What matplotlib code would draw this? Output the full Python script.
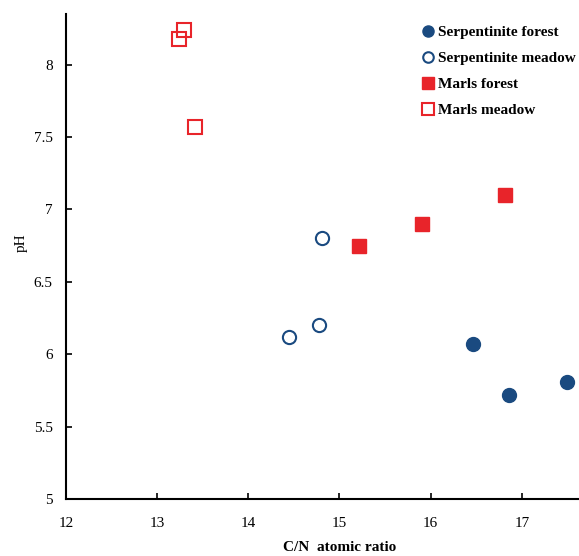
import matplotlib
matplotlib.use("Agg")
import matplotlib.pyplot as plt

plt.rcParams["font.family"] = ["Liberation Serif", "DejaVu Serif"]

# C/N atomic ratio (x) and pH (y) per site group
serp_forest_cn = [16.46, 16.86, 17.50]
serp_forest_ph = [6.07, 5.72, 5.81]
serp_meadow_cn = [14.81, 14.78, 14.45]
serp_meadow_ph = [6.80, 6.20, 6.12]
marls_forest_cn = [15.21, 15.90, 16.81]
marls_forest_ph = [6.75, 6.90, 7.10]
marls_meadow_cn = [13.24, 13.29, 13.41]
marls_meadow_ph = [8.18, 8.24, 7.57]

x_ticks = [12, 13, 14, 15, 16, 17]
y_ticks = [5, 5.5, 6, 6.5, 7, 7.5, 8]
y_tick_labels = ["5", "5.5", "6", "6.5", "7", "7.5", "8"]

blue = "#1a4a80"
red = "#e8242a"

fig = plt.figure(figsize=(5.79, 5.56), dpi=100)
# axis runs to 18 but the picture is cut at the right edge
ax = fig.add_axes([66 / 579, 57 / 556, 547 / 579, 485 / 556])

ax.plot(serp_forest_cn, serp_forest_ph, "o", ms=10, color=blue,
        mec=blue, label="Serpentinite forest", zorder=3)
ax.plot(serp_meadow_cn, serp_meadow_ph, "o", ms=9.5, mfc="white",
        mec=blue, mew=1.5, label="Serpentinite meadow", zorder=3)
ax.plot(marls_forest_cn, marls_forest_ph, "s", ms=10, color=red,
        mec=red, label="Marls forest", zorder=3)
ax.plot(marls_meadow_cn, marls_meadow_ph, "s", ms=10, mfc="none",
        mec=red, mew=1.5, label="Marls meadow", zorder=3)

ax.set_xlim(12, 18)
ax.set_ylim(5, 8.35)
ax.set_xticks(x_ticks)
ax.set_xticklabels([str(t) for t in x_ticks])
ax.set_yticks(y_ticks)
ax.set_yticklabels(y_tick_labels)

for side in ["top", "right"]:
    ax.spines[side].set_visible(False)
for side in ["left", "bottom"]:
    ax.spines[side].set_linewidth(1.5)

ax.tick_params(axis="both", direction="in", length=4, width=1.2,
               labelsize=11)
ax.tick_params(axis="x", pad=13)
ax.tick_params(axis="y", pad=9.5)

ax.set_xlabel("C/N  atomic ratio", fontsize=11, fontweight="bold", labelpad=8)
ax.set_ylabel("pH", fontsize=11, labelpad=4)
ax.yaxis.label.set_y(0.528)

leg = ax.legend(loc="upper left", bbox_to_anchor=(414 / 579, 1 - 18 / 556),
                bbox_transform=fig.transFigure, frameon=False,
                handlelength=0.8, handletextpad=0.25, borderpad=0,
                labelspacing=0.8, markerscale=0.8,
                prop={"size": 11, "weight": "bold"})

fig.savefig("out.png", dpi=100)
